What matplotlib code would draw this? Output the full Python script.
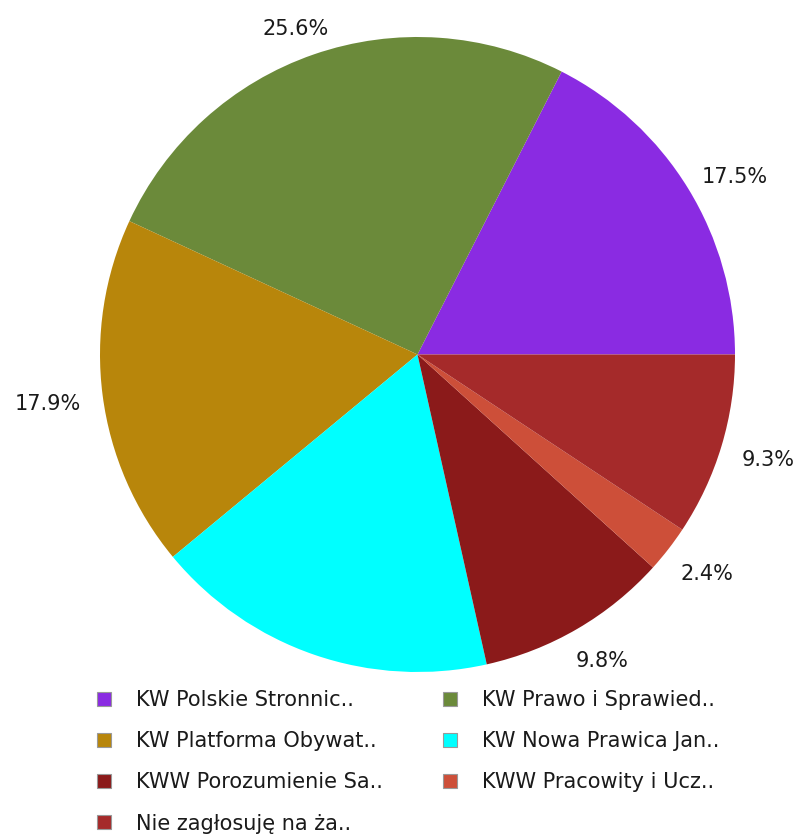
import matplotlib
matplotlib.use("Agg")
import matplotlib.pyplot as plt
from matplotlib.patches import Patch
import matplotlib.transforms as mtrans
import numpy as np

names = ["KW Polskie Stronnic..", "KW Prawo i Sprawied..", "KW Platforma Obywat..",
         "KW Nowa Prawica Jan..", "KWW Porozumienie Sa..", "KWW Pracowity i Ucz..",
         "Nie zagłosuję na ża.."]
values = [17.5, 25.6, 17.9, 17.5, 9.8, 2.4, 9.3]
pct_labels = ["17.5%", "25.6%", "17.9%", "", "9.8%", "2.4%", "9.3%"]
colors = ["#8A2BE2", "#6B8A3A", "#B8860B", "#00FFFF", "#8B1A1A", "#CD4F39", "#A52A2A"]

fig = plt.figure(figsize=(7.97, 8.34), dpi=100)
ax = fig.add_axes([100/797, (834-672)/834, 635/797, 635/834])
wedges, _ = ax.pie(values, colors=colors, startangle=0, counterclock=True,
                   radius=1, wedgeprops=dict(linewidth=0))
ax.set_xlim(-1, 1); ax.set_ylim(-1, 1)
ax.set_aspect("equal")
ax.axis("off")

renderer = fig.canvas.get_renderer()
R_px = 317.5
gap = 22.0
for w, lab in zip(wedges, pct_labels):
    if not lab:
        continue
    ang = np.deg2rad((w.theta1 + w.theta2) / 2)
    r = 1 + gap / R_px
    t = ax.text(r*np.cos(ang), r*np.sin(ang), lab, ha="center", va="center",
                fontsize=15, color="#1a1a1a", clip_on=False)
    bb = t.get_window_extent(renderer)
    dx = bb.width / 2 * np.cos(ang)
    dy = bb.height / 2 * np.sin(ang) - 5
    t.set_transform(mtrans.offset_copy(ax.transData, fig=fig, x=dx, y=dy, units="dots"))

col1 = [0, 2, 4, 6]
col2 = [1, 3, 5]
for idxs, x0 in ((col1, 97), (col2, 443)):
    handles = [Patch(facecolor=colors[i], edgecolor="#999999", linewidth=0.8) for i in idxs]
    leg = fig.legend(handles=handles, labels=[names[i] for i in idxs], ncol=1,
                     loc="upper left", bbox_to_anchor=(x0/797, 1-690/834),
                     frameon=False, fontsize=15, handlelength=0.65, handleheight=0.65,
                     handletextpad=1.2, labelspacing=1.02, borderpad=0, borderaxespad=0)
    for txt in leg.get_texts():
        txt.set_color("#1a1a1a")

fig.savefig("out.png", dpi=100)
